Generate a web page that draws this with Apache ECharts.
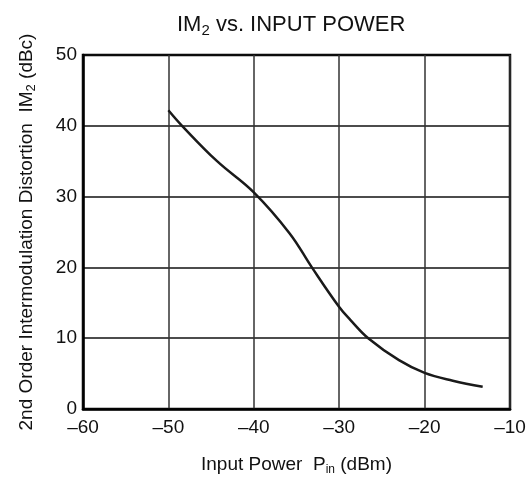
<!DOCTYPE html>
<html>
<head>
<meta charset="utf-8">
<script src="https://cdn.jsdelivr.net/npm/echarts@6/dist/echarts.min.js"></script>
<style>html,body{margin:0;padding:0;background:#fff;}#c{width:531px;height:481px;}</style>
</head>
<body>
<div id="c"></div>
<script>
const inputPower = [-50, -48.4, -44.3, -40, -35.8, -33.2, -30, -28.7, -26.6, -23, -20, -16.7, -13.2];
const im2 = [42.2, 40, 35.0, 30.6, 24.8, 20, 14.4, 12.6, 10, 6.9, 5.1, 4.0, 3.15];
const xTicks = [-60, -50, -40, -30, -20, -10];
const yTicks = [0, 10, 20, 30, 40, 50];

const FONT = 'Liberation Sans, Arial, Helvetica, sans-serif';
const chart = echarts.init(document.getElementById('c'), null, {renderer: 'canvas'});
const fmt = v => v < 0 ? '\u2013' + Math.abs(v) : String(v);
chart.setOption({
  animation: false,
  backgroundColor: '#fff',
  title: {
    text: '{a|IM}{s|2}{a| vs. INPUT POWER}',
    left: 172, top: 9,
    textStyle: {
      fontFamily: FONT, color: '#111', fontWeight: 'normal',
      rich: {
        a: {fontSize: 22, fontFamily: FONT, color: '#111', fontWeight: 'normal'},
        s: {fontSize: 15, fontFamily: FONT, color: '#111', fontWeight: 'normal', verticalAlign: 'bottom', padding: [0, 0, -2, 0]}
      }
    }
  },
  grid: {left: 83, right: 21, top: 55, bottom: 72, show: true, borderColor: '#000', borderWidth: 2.5, backgroundColor: 'transparent'},
  xAxis: {
    type: 'value', min: xTicks[0], max: xTicks[xTicks.length - 1], interval: 10,
    name: '{a|Input Power  P}{s|in}{a| (dBm)}',
    nameLocation: 'middle', nameGap: 46,
    nameTextStyle: {
      rich: {
        a: {fontSize: 19, fontFamily: FONT, color: '#111'},
        s: {fontSize: 12, fontFamily: FONT, color: '#111', verticalAlign: 'bottom', padding: [0, 0, -2, 0]}
      }
    },
    axisLine: {show: true, lineStyle: {color: '#000', width: 2.5}},
    axisTick: {show: false},
    axisLabel: {formatter: fmt, fontSize: 19, fontFamily: FONT, color: '#111', margin: 9},
    splitLine: {show: true, lineStyle: {color: '#333', width: 1.5}}
  },
  yAxis: {
    type: 'value', min: yTicks[0], max: yTicks[yTicks.length - 1], interval: 10,
    name: '{a|2nd Order Intermodulation Distortion  IM}{s|2}{a| (dBc)}',
    nameLocation: 'middle', nameGap: 47, nameRotate: 90,
    nameTextStyle: {
      rich: {
        a: {fontSize: 19, fontFamily: FONT, color: '#111'},
        s: {fontSize: 13, fontFamily: FONT, color: '#111', verticalAlign: 'bottom', padding: [0, 0, -2, 0]}
      }
    },
    axisLine: {show: true, lineStyle: {color: '#000', width: 2.5}},
    axisTick: {show: false},
    axisLabel: {formatter: fmt, fontSize: 19, fontFamily: FONT, color: '#111', margin: 6},
    splitLine: {show: true, lineStyle: {color: '#111', width: 1.5}}
  },
  series: [{
    type: 'line',
    data: inputPower.map((x, i) => [x, im2[i]]),
    smooth: 0.4,
    showSymbol: false,
    lineStyle: {color: '#1a1a1a', width: 2.5}
  }]
});
</script>
</body>
</html>
